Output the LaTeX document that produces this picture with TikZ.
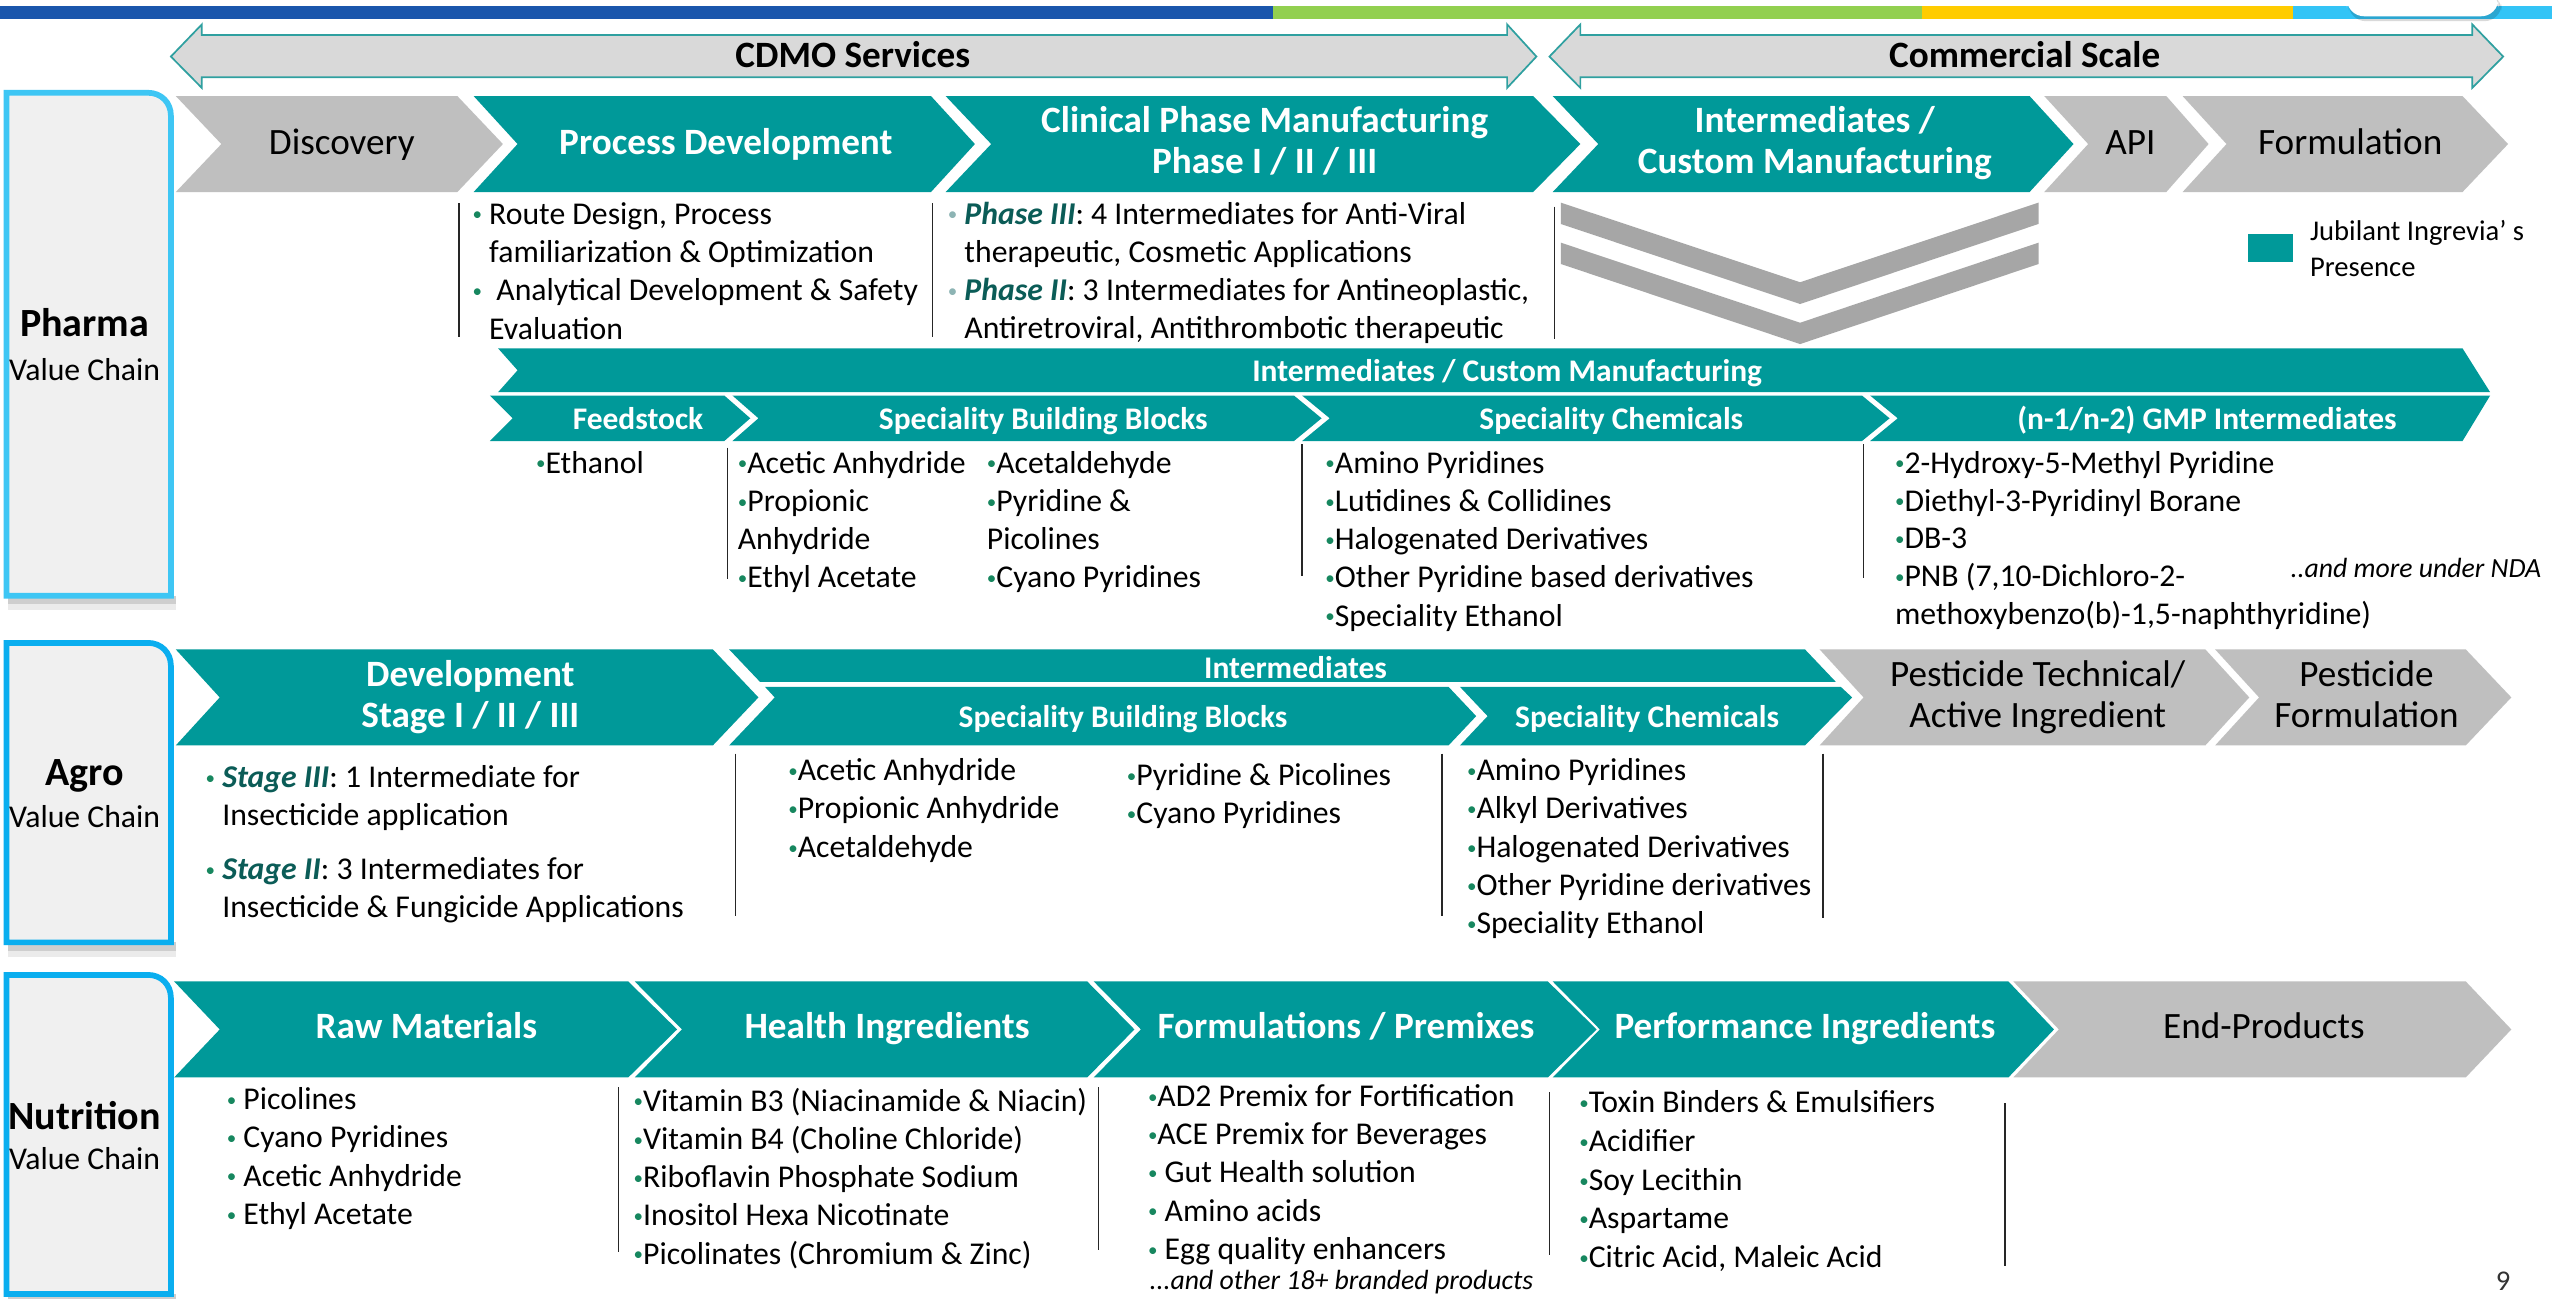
\documentclass[tikz,border=0pt]{standalone}
\usepackage{graphicx}
\usepackage{fontspec}
\setmainfont{Carlito}
\usetikzlibrary{calc}
\definecolor{teal1}{HTML}{009999}
\definecolor{gchev}{HTML}{BFBFBF}
\definecolor{arrbg}{HTML}{D9D9D9}
\definecolor{arrln}{HTML}{2FA0A0}
\definecolor{vgray}{HTML}{A6A6A6}
\definecolor{bulg}{HTML}{17875F}
\definecolor{bulp}{HTML}{8DB4B4}
\definecolor{phcol}{HTML}{0B5C57}
\definecolor{boxfill}{HTML}{F0F0F0}
\definecolor{boxln}{HTML}{3EC6F4}
\definecolor{boxlnb}{HTML}{0AAEEF}
\definecolor{barblue}{HTML}{1A56AC}
\definecolor{bargreen}{HTML}{92D050}
\definecolor{baryellow}{HTML}{FFCC00}
\definecolor{barcyan}{HTML}{33C4F6}
\newcommand\fsT{\fontsize{13pt}{15pt}\selectfont}
\newcommand\fsS{\fontsize{11pt}{13pt}\selectfont}
\newcommand\fsB{\fontsize{11.1pt}{13.3pt}\selectfont}
\newcommand\fsL{\fontsize{14pt}{16pt}\selectfont}
\newcommand\fsN{\fontsize{10pt}{12pt}\selectfont}
\newcommand\fsI{\fontsize{9.7pt}{11pt}\selectfont}
\newcommand\smb[1]{{\color{#1}\raisebox{0.1em}{\scalebox{0.6}{\textbullet}}}}
\newcommand\gb{\smb{bulg}}
\newcommand\pb{\smb{bulp}}
\newcommand\phs[1]{{\bfseries\itshape\color{phcol}#1}}
\newcommand\chev[7]{\fill[#7] (#1,#3) -- (#2,#3) -- ({#2+#6},{(#3+#4)/2}) -- (#2,#4) -- (#1,#4) -- ({#1+#5},{(#3+#4)/2}) -- cycle;}
\newcommand\lst[5]{\foreach [count=\i] \t in {#5} {\node[bt] (#1\i) at (#2,{#3+(\i-1)*#4}) {\t};}}
\newcommand\chainbox[3]{%
  \fill[black,opacity=.08] (5,{#2}) rectangle (108,{#2+9});
  \fill[black,opacity=.12] (5,{#2}) rectangle (108,{#2+5});
  \draw[line width=2pt, draw=#3, fill=boxfill] (4,#2) -- (4,#1) -- (91,#1) .. controls (99,#1) and (105,{#1+6}) .. (105,{#1+14}) -- (105,#2) -- cycle;}
\tikzset{
  tx/.style={inner sep=0pt, yshift=-0.05cm},
  ttl/.style={tx, font=\bfseries\fsT, text=white, anchor=mid},
  gtl/.style={tx, font=\fsT, text=black, anchor=mid},
  sbt/.style={tx, font=\bfseries\fsS, text=white, anchor=mid},
  bt/.style={tx, font=\fsB, text=black, anchor=mid west},
  lblb/.style={tx, font=\bfseries\fsL, text=black, anchor=mid},
  lbln/.style={tx, font=\fsB, text=black, anchor=mid},
  vline/.style={draw=black!85, line width=0.5pt},
  dblarr/.style={fill=arrbg, draw=arrln, line width=0.6pt}
}
\begin{document}
\begin{tikzpicture}[x=0.02cm,y=-0.02cm]
\useasboundingbox (0,0) rectangle (1568,798);
\fill[white] (0,0) rectangle (1568,798);
% top bar
\fill[barblue] (0,3.7) rectangle (782,11.7);
\fill[bargreen] (782,3.7) rectangle (1181,11.7);
\fill[baryellow] (1181,3.7) rectangle (1409,11.7);
\fill[barcyan] (1409,3.7) rectangle (1568,11.7);
\fill[black,opacity=.15,rounded corners=6] (1443,-4) rectangle (1537,13);
\fill[white,rounded corners=6] (1442,-6) rectangle (1535,10);
% double arrows
\draw[dblarr] (105,34.75) -- (124,15) -- (124,21.5) -- (926,21.5) -- (926,15) -- (944,34.75) -- (926,54) -- (926,47.5) -- (124,47.5) -- (124,54) -- cycle;
\draw[dblarr] (952,34.75) -- (971,15) -- (971,21.5) -- (1519,21.5) -- (1519,15) -- (1538,34.75) -- (1519,54) -- (1519,47.5) -- (971,47.5) -- (971,54) -- cycle;
\node[tx, font=\bfseries\fsT, anchor=mid] (cdmo) at (524,35) {CDMO Services};
\node[tx, font=\bfseries\fsT, anchor=mid] (comm) at (1244,35) {Commercial Scale};
% value chain boxes
\chainbox{57}{366}{boxln}
\chainbox{395}{579}{boxlnb}
\chainbox{599}{795}{boxlnb}
\node[lblb] (ph1) at (52,200) {Pharma};
\node[lbln] (ph2) at (52,227) {Value Chain};
\node[lblb] (ag1) at (52,476) {Agro};
\node[lbln] (ag2) at (52,502) {Value Chain};
\node[lblb] (nu1) at (52,687) {Nutrition};
\node[lbln] (nu2) at (52,712) {Value Chain};
% pharma chevrons
\chev{108}{281}{59}{118}{28}{28}{gchev}
\chev{291}{572}{59}{118}{27}{27}{teal1}
\chev{581}{942}{59}{118}{28}{29}{teal1}
\chev{954}{1247}{59}{118}{28}{27}{teal1}
\chev{1256}{1331}{59}{118}{27}{26}{gchev}
\chev{1341}{1513}{59}{118}{27}{28}{gchev}
\node[gtl] (disc) at (210,88.5) {Discovery};
\node[ttl] (pd) at (446,88.5) {Process Development};
\node[ttl] (cl1) at (777,75) {Clinical Phase Manufacturing};
\node[ttl] (cl2) at (777,100) {Phase I / II / III};
\node[ttl] (im1) at (1115,75) {Intermediates /};
\node[ttl] (im2) at (1115,100) {Custom Manufacturing};
\node[gtl] (api) at (1309,88.5) {API};
\node[gtl] (form) at (1444,88.5) {Formulation};
% pharma upper lists
\draw[vline] (282,125) -- (282,207);
\draw[vline] (573,125) -- (573,207);
\draw[vline] (955,127) -- (955,208);
\lst{pdl}{290}{131}{23.6}{{\gb\ Route Design, Process},{\phantom{\gb\ }familiarization \& Optimization},{\gb\ \ Analytical Development \& Safety},{\phantom{\gb\ }Evaluation}}
\lst{cll}{582}{131}{23.5}{{\pb\ \phs{Phase III}: 4 Intermediates for Anti-Viral},{\phantom{\pb\ }therapeutic, Cosmetic Applications},{\pb\ \phs{Phase II}: 3 Intermediates for Antineoplastic,},{\phantom{\pb\ }Antiretroviral, Antithrombotic therapeutic}}
% V arrows
\fill[vgray] (959,124.5) -- (1106,173.4) -- (1252.5,124.5) -- (1252.5,137.6) -- (1106,186.8) -- (959,137.6) -- cycle;
\fill[vgray] (959,149.1) -- (1106,198.3) -- (1252.5,149.1) -- (1252.5,162.2) -- (1106,211.4) -- (959,162.2) -- cycle;
% legend
\fill[teal1] (1381,144) rectangle (1409,161);
\node[tx, font=\fsN, anchor=mid west] (leg1) at (1419,141) {Jubilant Ingrevia’ s};
\node[tx, font=\fsN, anchor=mid west] (leg2) at (1419,163) {Presence};
% pharma band
\fill[teal1] (306,214) -- (1513,214) -- (1530,241) -- (306,241) -- (318,227.5) -- cycle;
\fill[teal1] (301,243) -- (445,243) -- (461,257) -- (445,271) -- (301,271) -- (315,257) -- cycle;
\fill[teal1] (450,243) -- (795,243) -- (812,257) -- (795,271) -- (450,271) -- (466,257) -- cycle;
\fill[teal1] (800,243) -- (1144,243) -- (1161,257) -- (1144,271) -- (800,271) -- (817,257) -- cycle;
\fill[teal1] (1149,243) -- (1530,243) -- (1513,271) -- (1149,271) -- (1166,257) -- cycle;
\node[sbt] (icm) at (926,228) {Intermediates / Custom Manufacturing};
\node[sbt] (feed) at (392,257) {Feedstock};
\node[sbt] (sbb) at (641,257) {Speciality Building Blocks};
\node[sbt] (sc) at (990,257) {Speciality Chemicals};
\node[sbt] (gmp) at (1356,257) {(n-1/n-2) GMP Intermediates};
% pharma lower lists
\draw[vline] (447,275) -- (447,356);
\draw[vline] (800,273) -- (800,354);
\draw[vline] (1145,273) -- (1145,355);
\node[bt] (eth) at (329,284) {\gb Ethanol};
\lst{sa}{453}{284}{23.5}{\gb Acetic Anhydride,\gb Propionic,Anhydride,\gb Ethyl Acetate}
\lst{sbl}{606}{284}{23.5}{\gb Acetaldehyde,\gb Pyridine \&,Picolines,\gb Cyano Pyridines}
\lst{scl}{814}{284}{23.5}{\gb Amino Pyridines,\gb Lutidines \& Collidines,\gb Halogenated Derivatives,\gb Other Pyridine based derivatives,\gb Speciality Ethanol}
\lst{gm}{1164}{284}{23.3}{{\gb 2-Hydroxy-5-Methyl Pyridine},{\gb Diethyl-3-Pyridinyl Borane},{\gb DB-3},{\gb PNB (7,10-Dichloro-2-},{methoxybenzo(b)-1,5-naphthyridine)}}
\node[tx, font=\itshape\fsI, anchor=mid west] (nda) at (1407,348) {..and more under NDA};
% agro chevrons
\fill[teal1] (108,399) -- (438,399) -- (466,428.5) -- (438,458) -- (108,458) -- (135,428.5) -- cycle;
\fill[teal1] (448,399) -- (1109,399) -- (1128,419) -- (467,419) -- cycle;
\fill[teal1] (470,422) -- (890,422) -- (907,440) -- (890,458) -- (448,458) -- (476,428.5) -- cycle;
\fill[teal1] (897,422) -- (1131,422) -- (1138,428.5) -- (1109,458) -- (897,458) -- (914,440) -- cycle;
\chev{1118}{1355}{399}{458}{27}{27}{gchev}
\chev{1361}{1515}{399}{458}{27}{28}{gchev}
\node[ttl] (dev1) at (289,415) {Development};
\node[ttl] (dev2) at (289,440) {Stage I / II / III};
\node[sbt] (ai) at (796,410) {Intermediates};
\node[sbt] (asbb) at (690,440) {Speciality Building Blocks};
\node[sbt] (asc) at (1012,440) {Speciality Chemicals};
\node[gtl] (pt1) at (1252,415) {Pesticide Technical/};
\node[gtl] (pt2) at (1252,440) {Active Ingredient};
\node[gtl] (pf1) at (1454,415) {Pesticide};
\node[gtl] (pf2) at (1454,440) {Formulation};
% agro lists
\draw[vline] (452,463) -- (452,563);
\draw[vline] (886,463) -- (886,563);
\draw[vline] (1120,463) -- (1120,564);
\lst{sta}{126}{477}{23.6}{{\gb\ \phs{Stage III}: 1 Intermediate for},{\phantom{\gb\ }Insecticide application}}
\lst{stb}{126}{533.5}{23.6}{{\gb\ \phs{Stage II}: 3 Intermediates for},{\phantom{\gb\ }Insecticide \& Fungicide Applications}}
\lst{aa}{484}{473}{23.5}{\gb Acetic Anhydride,\gb Propionic Anhydride,\gb Acetaldehyde}
\lst{ab}{692}{476}{23.5}{\gb Pyridine \& Picolines,\gb Cyano Pyridines}
\lst{ac}{901}{473}{23.5}{\gb Amino Pyridines,\gb Alkyl Derivatives,\gb Halogenated Derivatives,\gb Other Pyridine derivatives,\gb Speciality Ethanol}
% nutrition chevrons
\chev{107}{386}{603}{662}{28}{30}{teal1}
\chev{390}{668}{603}{662}{29}{29}{teal1}
\chev{672}{951}{603}{662}{29}{30}{teal1}
\chev{954}{1234}{603}{662}{29}{28}{teal1}
\chev{1237}{1515}{603}{662}{28}{28}{gchev}
\node[ttl] (raw) at (262,631.5) {Raw Materials};
\node[ttl] (hi) at (545,631.5) {Health Ingredients};
\node[ttl] (fp) at (827,631.5) {Formulations / Premixes};
\node[ttl] (perf) at (1109,631.5) {Performance Ingredients};
\node[gtl] (endp) at (1391,631.5) {End-Products};
% nutrition lists
\draw[vline] (380,668) -- (380,769);
\draw[vline] (675,668) -- (675,768);
\draw[vline] (952,671) -- (952,771);
\draw[vline] (1232,678) -- (1232,778);
\lst{na}{139}{675}{23.5}{{\gb\ Picolines},{\gb\ Cyano Pyridines},{\gb\ Acetic Anhydride},{\gb\ Ethyl Acetate}}
\lst{nb}{389}{676}{23.5}{{\gb Vitamin B3 (Niacinamide \& Niacin)},{\gb Vitamin B4 (Choline Chloride)},{\gb Riboflavin Phosphate Sodium},{\gb Inositol Hexa Nicotinate},{\gb Picolinates (Chromium \& Zinc)}}
\lst{nc}{705}{673}{23.5}{{\gb AD2 Premix for Fortification},{\gb ACE Premix for Beverages},{\gb\ Gut Health solution},{\gb\ Amino acids},{\gb\ Egg quality enhancers}}
\lst{nd}{970}{677}{23.8}{{\gb Toxin Binders \& Emulsifiers},{\gb Acidifier},{\gb Soy Lecithin},{\gb Aspartame},{\gb Citric Acid, Maleic Acid}}
\node[inner sep=0pt, font=\itshape\fsI, anchor=mid west] (oth) at (706,788) {...and other 18+ branded products};
\node[inner sep=0pt, font=\fsN, text=black!80, anchor=mid] (pg) at (1538,789) {9};
\end{tikzpicture}
\end{document}
